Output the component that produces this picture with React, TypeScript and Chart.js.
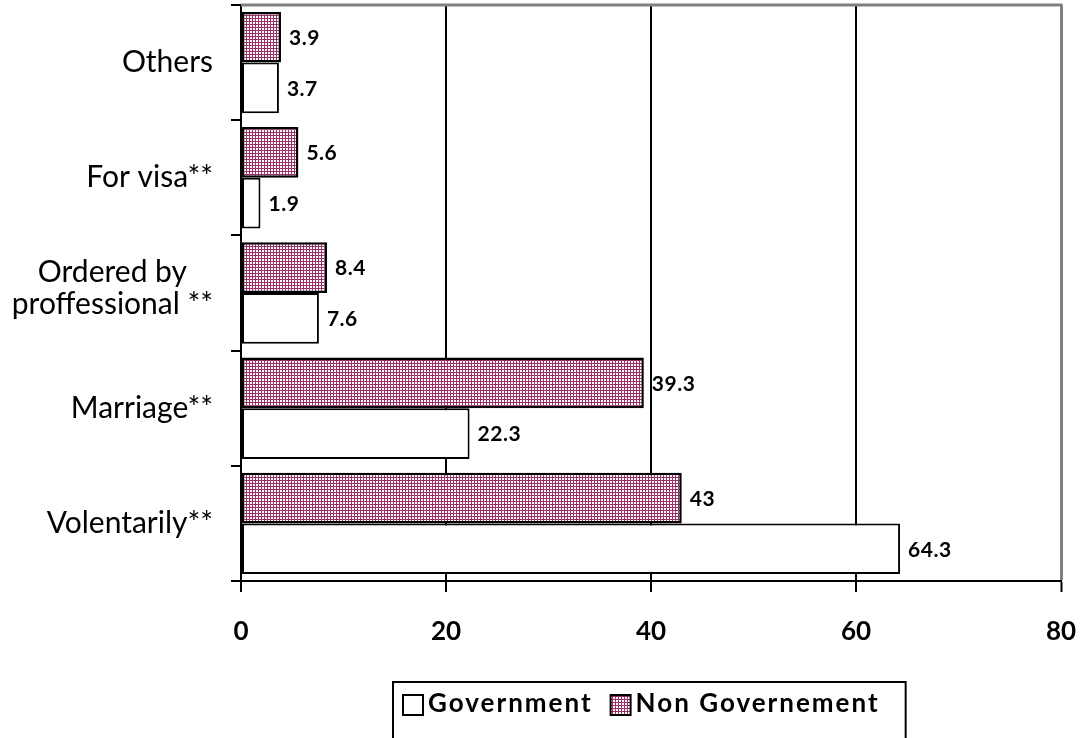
import { useEffect, useRef } from "react";
import { Chart, registerables } from "chart.js";

Chart.register(...registerables);

const categories: (string | string[])[] = [
  "Others",
  "For visa**",
  ["Ordered by", "proffessional **"],
  "Marriage**",
  "Volentarily**",
];
const governmentValues = [3.7, 1.9, 7.6, 22.3, 64.3];
const nonGovernmentValues = [3.9, 5.6, 8.4, 39.3, 43];
const seriesNames = ["Government", "Non Governement"];
const xMin = 0;
const xMax = 80;
const xStep = 20;

const FONT = 'Lato, "Liberation Sans", sans-serif';

function makePattern(): CanvasPattern | string {
  const c = document.createElement("canvas");
  c.width = 3;
  c.height = 3;
  const g = c.getContext("2d");
  if (!g) return "#b45f8c";
  g.fillStyle = "#ffffff";
  g.fillRect(0, 0, 3, 3);
  g.fillStyle = "#9c2f66";
  g.fillRect(0, 0, 3, 1);
  g.fillRect(0, 0, 1, 3);
  const p = g.createPattern(c, "repeat");
  return p || "#b45f8c";
}

const labelsPlugin = {
  id: "customLabels",
  afterDatasetsDraw(chart: any) {
    const ctx = chart.ctx;
    ctx.save();
    ctx.fillStyle = "#000";
    ctx.font = `bold 21px ${FONT}`;
    (ctx as any).letterSpacing = "0.5px";
    ctx.textAlign = "left";
    ctx.textBaseline = "middle";
    chart.data.datasets.forEach((ds: any, di: number) => {
      const meta = chart.getDatasetMeta(di);
      meta.data.forEach((el: any, i: number) => {
        ctx.fillText(String(ds.data[i]), el.x + 8, el.y + 1);
      });
    });
    ctx.restore();
  },
  afterDraw(chart: any) {
    const ctx = chart.ctx;
    const area = chart.chartArea;
    ctx.save();
    // top gray border
    ctx.strokeStyle = "#808080";
    ctx.lineWidth = 3;
    ctx.beginPath();
    ctx.moveTo(area.left, area.top);
    ctx.lineTo(area.right + 1.5, area.top);
    ctx.stroke();

    // y category labels
    const yScale = chart.scales.y;
    ctx.fillStyle = "#000";
    ctx.font = `30px ${FONT}`;
    ctx.textBaseline = "middle";
    ctx.textAlign = "center";
    const rightEdge = 213;
    chart.data.labels.forEach((lab: any, i: number) => {
      const y = yScale.getPixelForValue(i);
      const lines: string[] = Array.isArray(lab) ? lab : [lab];
      const maxW = Math.max(...lines.map((l) => ctx.measureText(l).width));
      const cx = rightEdge - maxW / 2;
      const lh = 32;
      const y0 = y - ((lines.length - 1) * lh) / 2 - (lines.length > 1 ? 5 : 0);
      lines.forEach((l, k) => ctx.fillText(l, cx, y0 + k * lh));
    });

    // legend
    const order = [1, 0];
    ctx.font = `bold 26px ${FONT}`;
    (ctx as any).letterSpacing = "2px";
    const box = 20;
    const gapBoxText = 5;
    const gapItems = 18;
    const items = order.map((di) => {
      const ds = chart.data.datasets[di];
      return { ds, w: ctx.measureText(ds.label).width };
    });
    const total = items.reduce((s, it) => s + box + gapBoxText + it.w, 0) + gapItems * (items.length - 1);
    const padL = 10;
    const padR = 26;
    const frameLeft = 393;
    const frameTop = chart.height - 56;
    const textY = frameTop + 22;
    ctx.strokeStyle = "#000";
    ctx.lineWidth = 2;
    ctx.strokeRect(frameLeft, frameTop, total + padL + padR, 80);
    let x = frameLeft + padL;
    items.forEach((it) => {
      ctx.fillStyle = it.ds.backgroundColor;
      ctx.fillRect(x, textY - box / 2 + 1, box, box);
      ctx.strokeStyle = "#000";
      ctx.lineWidth = 2;
      ctx.strokeRect(x, textY - box / 2 + 1, box, box);
      x += box + gapBoxText;
      ctx.fillStyle = "#000";
      ctx.textAlign = "left";
      ctx.fillText(it.ds.label, x, textY);
      x += it.w + gapItems;
    });
    ctx.restore();
  },
};

export default function App() {
  const ref = useRef<HTMLCanvasElement | null>(null);
  useEffect(() => {
    document.body.style.margin = "0";
    const canvas = ref.current;
    if (!canvas) return;
    const pattern = makePattern();
    const chart = new Chart(canvas, {
      type: "bar",
      data: {
        labels: categories as any,
        datasets: [
          {
            label: seriesNames[1],
            data: nonGovernmentValues,
            backgroundColor: pattern as any,
            borderColor: "#000",
            borderWidth: 2.5,
            borderSkipped: false,
            categoryPercentage: 0.88,
            barPercentage: 1,
          },
          {
            label: seriesNames[0],
            data: governmentValues,
            backgroundColor: "#ffffff",
            borderColor: "#000",
            borderWidth: 2,
            borderSkipped: false,
            categoryPercentage: 0.88,
            barPercentage: 1,
          },
        ],
      },
      options: {
        indexAxis: "y",
        responsive: false,
        animation: false,
        layout: { padding: { top: 5, right: 22, left: 0, bottom: 0 } },
        plugins: {
          legend: { display: false },
          tooltip: { enabled: false },
        },
        scales: {
          x: {
            min: xMin,
            max: xMax,
            ticks: {
              stepSize: xStep,
              color: "#000",
              font: { family: FONT, size: 26, weight: "bold" },
              padding: 24,
            },
            grid: {
              color: (c: any) => (c.tick && c.tick.value === xMax ? "#808080" : "#000"),
              lineWidth: (c: any) => (c.tick && c.tick.value === xMax ? 3 : 2),
              tickColor: "#000",
              tickWidth: 2,
              tickLength: 11,
              drawTicks: true,
            },
            border: { display: true, color: "#000", width: 2 },
            afterFit: (s: any) => {
              s.height = 738 - 581;
              s.paddingRight = 0;
              s.paddingLeft = 0;
            },
          },
          y: {
            ticks: { display: false },
            grid: {
              offset: true,
              drawOnChartArea: false,
              drawTicks: true,
              tickLength: 10,
              color: "#000",
              lineWidth: 2,
            },
            border: { display: true, color: "#000", width: 2 },
            afterFit: (s: any) => {
              s.width = 241;
            },
          },
        },
      },
      plugins: [labelsPlugin],
    });
    return () => chart.destroy();
  }, []);
  return <canvas ref={ref} width={1083} height={738} style={{ display: "block" }} />;
}
